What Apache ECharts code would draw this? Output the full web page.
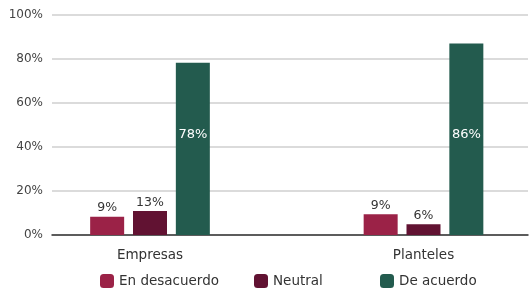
<!DOCTYPE html>
<html>
<head>
<meta charset="utf-8">
<script src="https://cdn.jsdelivr.net/npm/echarts@6/dist/echarts.min.js"></script>
<style>
  html, body { margin: 0; padding: 0; background: #fff; }
  #chart { width: 530px; height: 291px; }
</style>
</head>
<body>
<div id="chart"></div>
<script>
const categories = ['Empresas', 'Planteles'];
const seriesNames = ['En desacuerdo', 'Neutral', 'De acuerdo'];
// bar heights as drawn, and the labels printed on them
const desacuerdo = [8.3, 9.4];
const neutral = [10.9, 4.9];
const acuerdo = [78.3, 87];
const desacuerdoLabels = ['9%', '9%'];
const neutralLabels = ['13%', '6%'];
const acuerdoLabels = ['78%', '86%'];
const yTicks = [0, 20, 40, 60, 80, 100];

const colors = ['#9b2247', '#611232', '#235b4e'];
const font = 'DejaVu Sans';

const chart = echarts.init(document.getElementById('chart'));

function topLabel(labels) {
  return {
    show: true,
    position: 'top',
    distance: 2,
    color: '#333',
    fontFamily: font,
    fontSize: 12.5,
    formatter: p => labels[p.dataIndex]
  };
}

const legendText = { color: '#333', fontFamily: font, fontSize: 13.5 };

const option = {
  animation: false,
  grid: [
    { left: 52, right: 2, top: 15, bottom: 56 },
    // bars sit on the tick points of this second grid
    { left: 150, width: 273.5, top: 15, bottom: 56 }
  ],
  xAxis: [
    {
      gridIndex: 0, type: 'value', min: 0, max: 1,
      axisLine: { show: true, onZero: false, lineStyle: { color: '#333', width: 1.5 } },
      axisTick: { show: false }, axisLabel: { show: false }, splitLine: { show: false }
    },
    {
      gridIndex: 1, type: 'category', data: categories, boundaryGap: false,
      axisLine: { show: false }, axisTick: { show: false },
      axisLabel: { color: '#333', fontFamily: font, fontSize: 13.5, margin: 13 }
    }
  ],
  yAxis: [
    {
      gridIndex: 0, type: 'value', min: 0, max: 100, interval: 20,
      axisLine: { show: false }, axisTick: { show: false },
      axisLabel: { color: '#444', fontFamily: font, fontSize: 12, margin: 9,
        formatter: v => yTicks.includes(v) ? v + '%' : '' },
      splitLine: { lineStyle: { color: '#cfcfcf', width: 1.5 } }
    },
    {
      gridIndex: 1, type: 'value', min: 0, max: 100,
      show: false, splitLine: { show: false }
    }
  ],
  legend: [
    { left: 100, top: 274, padding: 0, itemWidth: 14, itemHeight: 14,
      data: [seriesNames[0]], textStyle: legendText },
    { left: 254, top: 274, padding: 0, itemWidth: 14, itemHeight: 14,
      data: [seriesNames[1]], textStyle: legendText },
    { left: 380, top: 274, padding: 0, itemWidth: 14, itemHeight: 14,
      data: [seriesNames[2]], textStyle: legendText }
  ],
  series: [
    {
      name: seriesNames[0], type: 'bar', xAxisIndex: 1, yAxisIndex: 1, clip: false,
      data: desacuerdo, barWidth: 34, barGap: '26%',
      itemStyle: { color: colors[0] }, label: topLabel(desacuerdoLabels)
    },
    {
      name: seriesNames[1], type: 'bar', xAxisIndex: 1, yAxisIndex: 1, clip: false,
      data: neutral, barWidth: 34, barGap: '26%',
      itemStyle: { color: colors[1] }, label: topLabel(neutralLabels)
    },
    {
      name: seriesNames[2], type: 'bar', xAxisIndex: 1, yAxisIndex: 1, clip: false,
      data: acuerdo, barWidth: 34, barGap: '26%',
      itemStyle: { color: colors[2] },
      label: {
        show: true, position: 'insideBottom', distance: 94,
        color: '#fff', fontFamily: font, fontSize: 13, fontWeight: 'normal',
        textBorderWidth: 0,
        formatter: p => acuerdoLabels[p.dataIndex]
      }
    }
  ]
};

chart.setOption(option);
</script>
</body>
</html>
